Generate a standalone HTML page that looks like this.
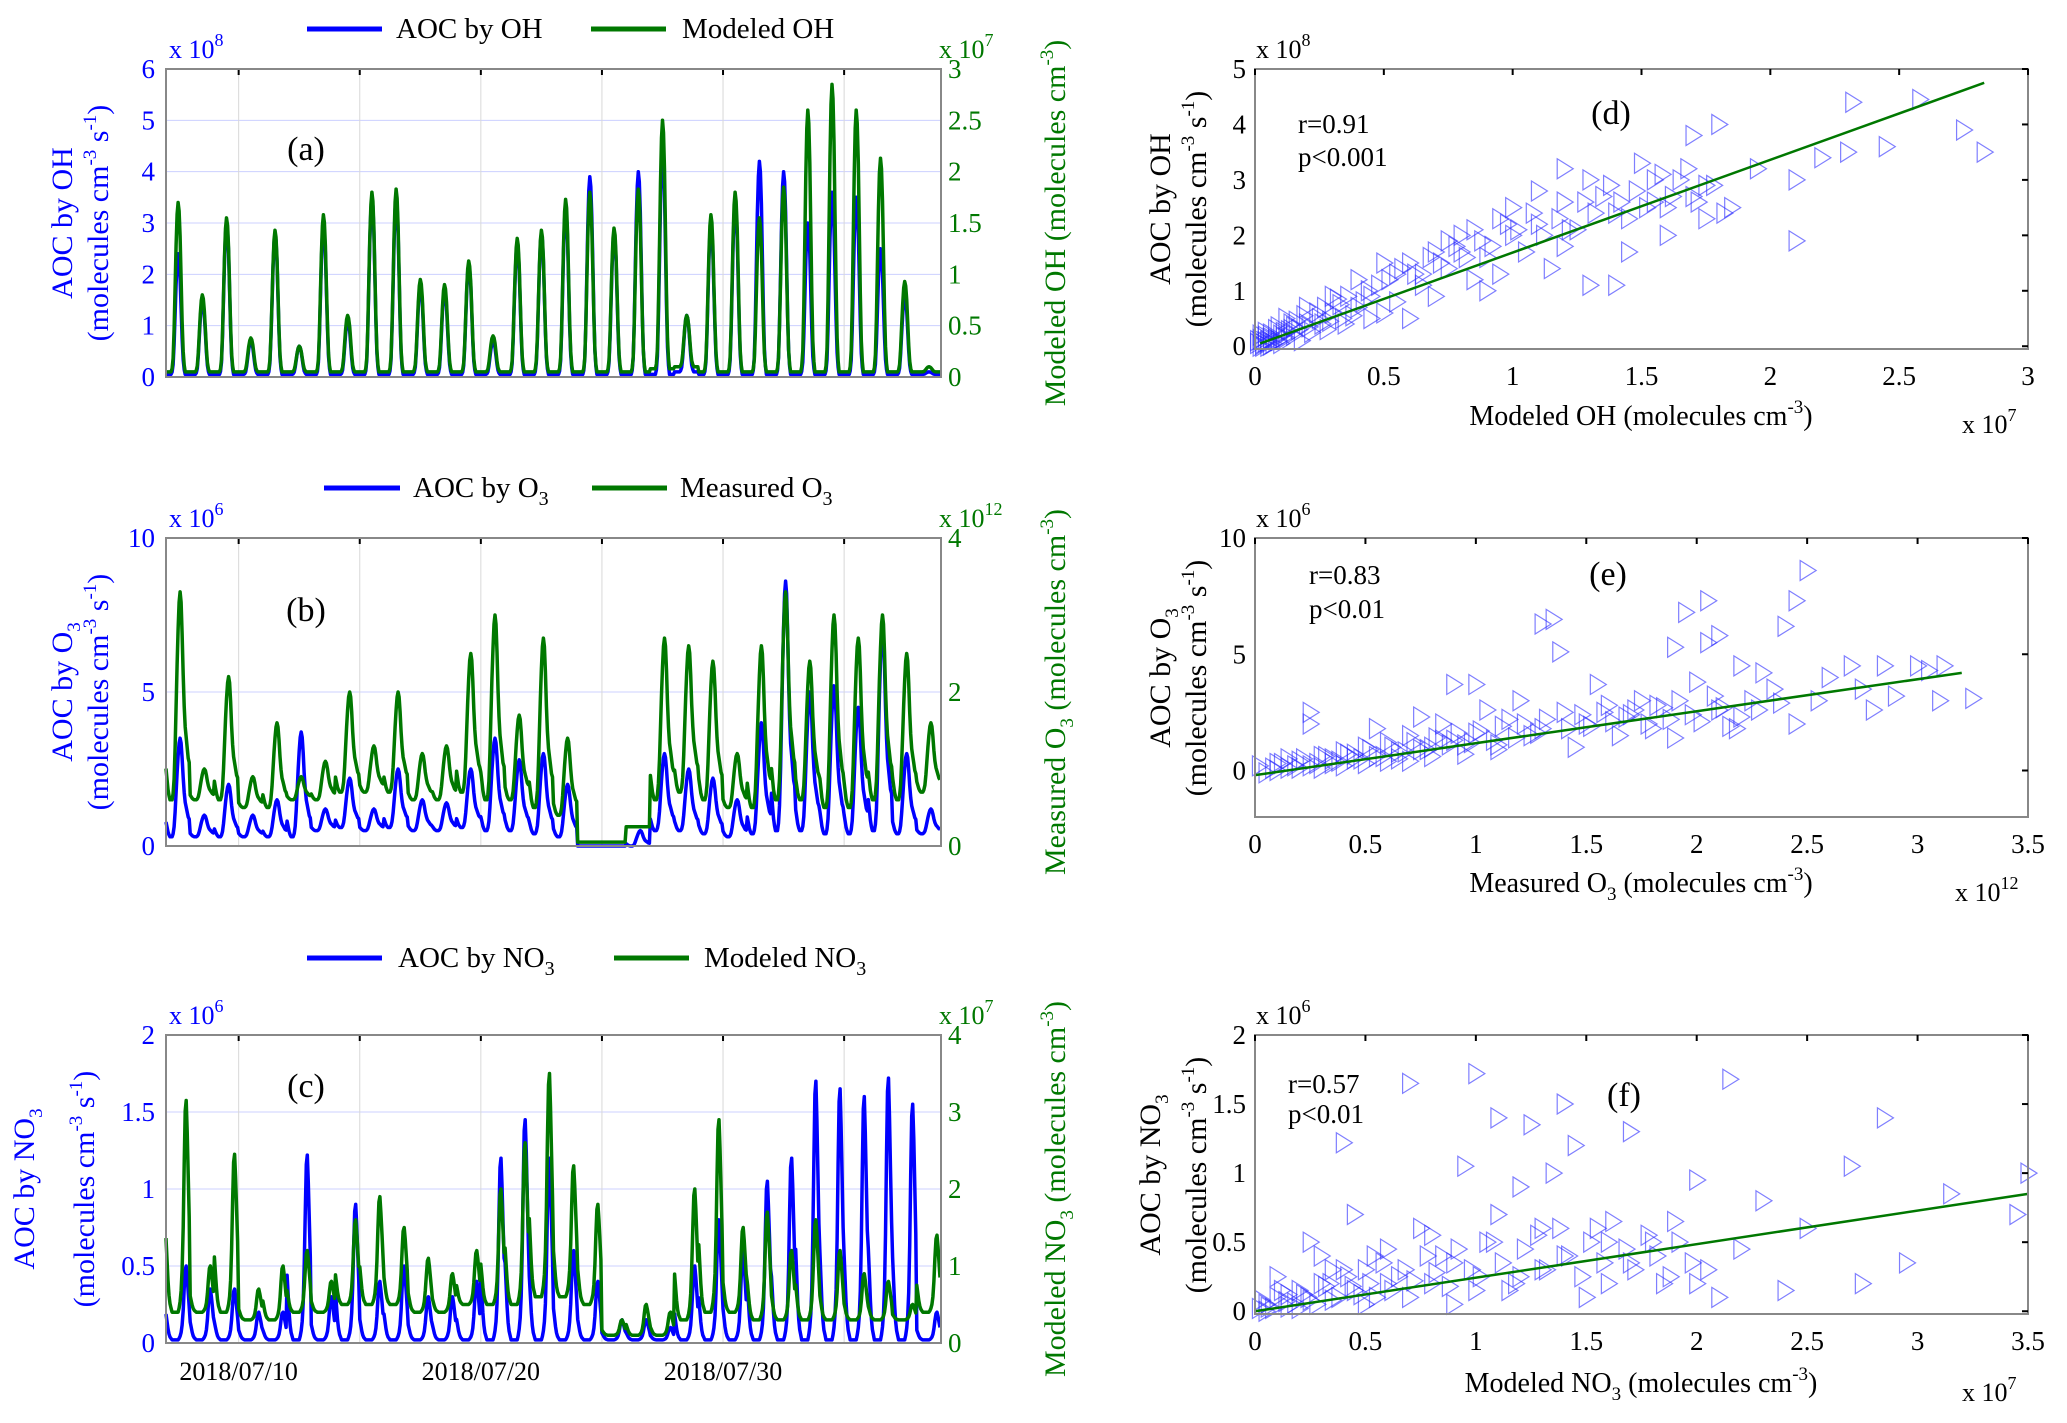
<!DOCTYPE html>
<html><head><meta charset="utf-8"><style>
html,body{margin:0;padding:0;background:#fff;}
svg{display:block;font-family:"Liberation Serif",serif;}
</style></head><body>
<svg id="fig" width="2067" height="1423" viewBox="0 0 2067 1423" xmlns="http://www.w3.org/2000/svg">
<rect width="2067" height="1423" fill="#fff"/>
<g id="grids"></g>
<g id="marks"></g>
<g id="axes"></g>
<g font-size="29">
 <line x1="307" y1="29" x2="382" y2="29" stroke="#0000ff" stroke-width="5"/>
 <text x="396" y="38">AOC by OH</text>
 <line x1="591" y1="29" x2="666" y2="29" stroke="#007800" stroke-width="5"/>
 <text x="682" y="38">Modeled OH</text>
</g>
<g font-size="29">
 <line x1="324" y1="488" x2="400" y2="488" stroke="#0000ff" stroke-width="5"/>
 <text x="413" y="497">AOC by O<tspan font-size="20" dy="8">3</tspan></text>
 <line x1="592" y1="488" x2="667" y2="488" stroke="#007800" stroke-width="5"/>
 <text x="680" y="497">Measured O<tspan font-size="20" dy="8">3</tspan></text>
</g>
<g font-size="29">
 <line x1="307" y1="958" x2="382" y2="958" stroke="#0000ff" stroke-width="5"/>
 <text x="398" y="967">AOC by NO<tspan font-size="20" dy="8">3</tspan></text>
 <line x1="614" y1="958" x2="689" y2="958" stroke="#007800" stroke-width="5"/>
 <text x="704" y="967">Modeled NO<tspan font-size="20" dy="8">3</tspan></text>
</g>
<g font-size="34">
 <text x="306" y="160" text-anchor="middle">(a)</text>
 <text x="306" y="621" text-anchor="middle">(b)</text>
 <text x="306" y="1097" text-anchor="middle">(c)</text>
 <text x="1611" y="124" text-anchor="middle">(d)</text>
 <text x="1608" y="585" text-anchor="middle">(e)</text>
 <text x="1624" y="1106" text-anchor="middle">(f)</text>
</g>
<g font-size="27">
 <text x="1298" y="133">r=0.91</text>
 <text x="1298" y="166">p&lt;0.001</text>
 <text x="1309" y="584">r=0.83</text>
 <text x="1309" y="618">p&lt;0.01</text>
 <text x="1288" y="1093">r=0.57</text>
 <text x="1288" y="1123">p&lt;0.01</text>
</g>
<g font-size="26">
 <text x="169" y="58" fill="#0000ff">x 10<tspan font-size="18" dy="-12">8</tspan></text>
 <text x="939" y="58" fill="#007800">x 10<tspan font-size="18" dy="-12">7</tspan></text>
 <text x="169" y="527" fill="#0000ff">x 10<tspan font-size="18" dy="-12">6</tspan></text>
 <text x="939" y="527" fill="#007800">x 10<tspan font-size="18" dy="-12">12</tspan></text>
 <text x="169" y="1024" fill="#0000ff">x 10<tspan font-size="18" dy="-12">6</tspan></text>
 <text x="939" y="1024" fill="#007800">x 10<tspan font-size="18" dy="-12">7</tspan></text>
 <text x="1256" y="58">x 10<tspan font-size="18" dy="-12">8</tspan></text>
 <text x="1256" y="527">x 10<tspan font-size="18" dy="-12">6</tspan></text>
 <text x="1256" y="1024">x 10<tspan font-size="18" dy="-12">6</tspan></text>
 <text x="1962" y="433">x 10<tspan font-size="18" dy="-12">7</tspan></text>
 <text x="1955" y="901">x 10<tspan font-size="18" dy="-12">12</tspan></text>
 <text x="1962" y="1401">x 10<tspan font-size="18" dy="-12">7</tspan></text>
</g>
<g font-size="30">
 <text transform="translate(72,223) rotate(-90)" text-anchor="middle" fill="#0000ff">AOC by OH</text>
 <text transform="translate(108,223) rotate(-90)" text-anchor="middle" fill="#0000ff">(molecules cm<tspan font-size="19" dy="-12">-3</tspan><tspan dy="12"> s</tspan><tspan font-size="19" dy="-12">-1</tspan><tspan dy="12">)</tspan></text>
 <text transform="translate(1065,223) rotate(-90)" text-anchor="middle" fill="#007800">Modeled OH (molecules cm<tspan font-size="19" dy="-12">-3</tspan><tspan dy="12">)</tspan></text>

 <text transform="translate(72,692) rotate(-90)" text-anchor="middle" fill="#0000ff">AOC by O<tspan font-size="19" dy="8">3</tspan></text>
 <text transform="translate(108,692) rotate(-90)" text-anchor="middle" fill="#0000ff">(molecules cm<tspan font-size="19" dy="-12">-3</tspan><tspan dy="12"> s</tspan><tspan font-size="19" dy="-12">-1</tspan><tspan dy="12">)</tspan></text>
 <text transform="translate(1065,692) rotate(-90)" text-anchor="middle" fill="#007800">Measured O<tspan font-size="19" dy="8">3</tspan><tspan dy="-8"> (molecules cm</tspan><tspan font-size="19" dy="-12">-3</tspan><tspan dy="12">)</tspan></text>

 <text transform="translate(34,1189) rotate(-90)" text-anchor="middle" fill="#0000ff">AOC by NO<tspan font-size="19" dy="8">3</tspan></text>
 <text transform="translate(94,1189) rotate(-90)" text-anchor="middle" fill="#0000ff">(molecules cm<tspan font-size="19" dy="-12">-3</tspan><tspan dy="12"> s</tspan><tspan font-size="19" dy="-12">-1</tspan><tspan dy="12">)</tspan></text>
 <text transform="translate(1065,1189) rotate(-90)" text-anchor="middle" fill="#007800">Modeled NO<tspan font-size="19" dy="8">3</tspan><tspan dy="-8"> (molecules cm</tspan><tspan font-size="19" dy="-12">-3</tspan><tspan dy="12">)</tspan></text>

 <text transform="translate(1170,209) rotate(-90)" text-anchor="middle">AOC by OH</text>
 <text transform="translate(1206,209) rotate(-90)" text-anchor="middle">(molecules cm<tspan font-size="19" dy="-12">-3</tspan><tspan dy="12"> s</tspan><tspan font-size="19" dy="-12">-1</tspan><tspan dy="12">)</tspan></text>
 <text transform="translate(1170,678) rotate(-90)" text-anchor="middle">AOC by O<tspan font-size="19" dy="8">3</tspan></text>
 <text transform="translate(1206,678) rotate(-90)" text-anchor="middle">(molecules cm<tspan font-size="19" dy="-12">-3</tspan><tspan dy="12"> s</tspan><tspan font-size="19" dy="-12">-1</tspan><tspan dy="12">)</tspan></text>
 <text transform="translate(1160,1175) rotate(-90)" text-anchor="middle">AOC by NO<tspan font-size="19" dy="8">3</tspan></text>
 <text transform="translate(1206,1175) rotate(-90)" text-anchor="middle">(molecules cm<tspan font-size="19" dy="-12">-3</tspan><tspan dy="12"> s</tspan><tspan font-size="19" dy="-12">-1</tspan><tspan dy="12">)</tspan></text>
</g>
<g font-size="28">
 <text x="1641" y="425" text-anchor="middle">Modeled OH (molecules cm<tspan font-size="19" dy="-12">-3</tspan><tspan dy="12">)</tspan></text>
 <text x="1641" y="892" text-anchor="middle">Measured O<tspan font-size="19" dy="8">3</tspan><tspan dy="-8"> (molecules cm</tspan><tspan font-size="19" dy="-12">-3</tspan><tspan dy="12">)</tspan></text>
 <text x="1641" y="1392" text-anchor="middle">Modeled NO<tspan font-size="19" dy="8">3</tspan><tspan dy="-8"> (molecules cm</tspan><tspan font-size="19" dy="-12">-3</tspan><tspan dy="12">)</tspan></text>
</g>
</svg>
<script>
const dateTickDays = [3, 13, 23];
const dateTickLabels = ["2018/07/10", "2018/07/20", "2018/07/30"];
const profileDay = [0,0,0,0,0,0,0.02,0.08,0.25,0.5,0.75,0.93,1,0.95,0.8,0.55,0.3,0.12,0.04,0,0,0,0,0];
const profileO3  = [0.15,0.1,0.05,0.02,0,0,0,0.03,0.1,0.25,0.45,0.65,0.82,0.95,1,0.95,0.8,0.6,0.45,0.35,0.3,0.25,0.2,0.18];
const profileNO3 = [0.35,0.25,0.15,0.08,0.04,0.02,0,0,0,0,0,0,0,0.02,0.05,0.1,0.2,0.4,0.7,0.95,1,0.85,0.65,0.45];

const aBluePeak  = [2.4,1.5,3.0,0.7,2.8,0.6,3.0,1.1,3.5,3.5,1.8,1.7,2.2,0.7,2.6,2.8,3.3,3.9,2.8,4.0,4.5,1.2,3.0,3.4,4.2,4.0,3.0,3.6,3.5,2.5,1.6,0.1];
const aBlueMin   = [0.05,0.05,0.05,0.05,0.05,0.05,0.05,0.05,0.05,0.05,0.05,0.05,0.05,0.05,0.05,0.05,0.05,0.05,0.05,0.05,0.05,0.1,0.05,0.05,0.05,0.05,0.05,0.05,0.05,0.05,0.05,0.05];
const aGreenPeak = [1.7,0.8,1.55,0.38,1.43,0.3,1.58,0.6,1.8,1.83,0.95,0.9,1.13,0.4,1.35,1.43,1.73,1.8,1.45,1.83,2.5,0.6,1.58,1.8,1.55,1.85,2.6,2.85,2.6,2.13,0.93,0.1];
const aGreenMin  = [0.05,0.05,0.05,0.05,0.05,0.05,0.05,0.05,0.05,0.05,0.05,0.05,0.05,0.05,0.05,0.05,0.05,0.05,0.05,0.05,0.08,0.1,0.05,0.05,0.05,0.05,0.05,0.05,0.05,0.05,0.05,0.05];

const bBluePeak  = [3.5,1.0,2.0,1.0,1.5,3.7,1.2,2.2,1.2,2.5,1.5,1.4,2.5,3.5,2.8,3.0,2.0,0,0,0.5,3.0,2.5,2.2,1.5,4.0,8.6,5.0,5.2,4.5,7.2,3.0,1.2];
const bBlueMin   = [0.3,0.3,0.3,0.3,0.3,0.3,0.5,0.6,0.5,0.6,0.5,0.5,0.6,0.5,0.5,0.4,0.3,0,0,0,0.5,0.5,0.4,0.3,0.4,0.5,0.5,0.4,0.4,0.5,0.4,0.4];
const bGreenPeak = [3.3,1.0,2.2,0.9,1.6,0.9,1.1,2.0,1.3,2.0,1.2,1.3,2.5,3.0,1.7,2.7,1.4,0.05,0.05,0.25,2.7,2.6,2.4,1.2,2.6,3.3,2.4,3.0,2.7,3.0,2.5,1.6];
const bGreenMin  = [0.6,0.6,0.6,0.5,0.5,0.6,0.6,0.7,0.7,0.7,0.6,0.6,0.7,0.6,0.6,0.5,0.4,0.05,0.05,0.25,0.6,0.7,0.6,0.5,0.5,0.6,0.6,0.5,0.5,0.6,0.6,0.7];

const cBluePeak  = [0.5,0.35,0.35,0.2,0.2,1.22,0.3,0.9,0.4,0.5,0.3,0.3,0.4,1.2,1.45,1.2,0.6,0.4,0.15,0.15,0.1,0.5,0.8,0.6,1.05,1.2,1.7,1.65,1.6,1.72,1.55,0.2];
const cBlueMin   = [0.02,0.02,0.02,0.02,0.02,0.02,0.02,0.02,0.02,0.02,0.02,0.02,0.02,0.02,0.02,0.02,0.02,0.02,0.02,0.02,0.02,0.02,0.02,0.02,0.02,0.02,0.02,0.02,0.02,0.02,0.02,0.02];
const cGreenPeak = [3.15,1.0,2.45,0.7,1.0,1.2,0.8,1.6,1.9,1.5,1.1,0.9,1.2,2.0,2.6,3.5,2.3,1.8,0.3,0.5,0.4,2.0,2.9,1.5,1.7,1.2,1.6,1.2,0.9,0.8,0.5,1.4];
const cGreenMin  = [0.4,0.4,0.4,0.3,0.3,0.4,0.4,0.5,0.5,0.5,0.4,0.4,0.5,0.5,0.5,0.6,0.6,0.5,0.1,0.1,0.1,0.3,0.4,0.4,0.3,0.3,0.3,0.3,0.3,0.3,0.3,0.4];

const dX = [0.02,0.03,0.05,0.05,0.06,0.08,0.1,0.1,0.12,0.15,0.15,0.18,0.2,0.2,0.22,0.25,0.28,0.3,0.3,0.33,0.35,0.38,0.4,0.4,0.45,0.45,0.5,0.5,0.55,0.55,0.6,0.6,0.65,0.65,0.7,0.7,0.75,0.75,0.8,0.8,0.85,0.85,0.9,0.9,0.95,0.95,1.0,1.0,1.05,1.1,1.1,1.15,1.2,1.2,1.2,1.25,1.3,1.3,1.35,1.4,1.4,1.45,1.45,1.5,1.55,1.55,1.6,1.6,1.65,1.7,1.7,1.75,1.75,1.8,1.85,1.95,2.1,2.1,2.2,2.3,2.32,2.45,2.58,2.75,2.83,0.01,0.04,0.07,0.12,0.16,
 0.01,0.02,0.03,0.04,0.05,0.06,0.08,0.09,0.11,0.13,0.14,0.17,0.19,0.21,0.24,0.26,0.27,0.29,0.32,0.34,0.36,0.42,0.44,0.48,0.52,0.57,0.62,0.68,0.72,0.78,0.82,0.88,0.92,0.98,1.02,1.08,1.12,1.18,1.22,1.28,1.32,1.38,1.42,1.48,1.52,1.58,1.62,1.68,1.72,1.78,1.82,0.02,0.04,0.06,0.09,0.11,0.14];
const dY = [0.2,0.05,0.1,0.0,0.15,0.3,0.05,0.2,0.5,0.2,0.35,0.1,0.4,0.7,0.25,0.5,0.3,0.6,0.9,0.75,0.4,0.55,0.7,1.2,0.9,0.5,0.6,1.5,1.3,0.8,1.5,0.5,1.1,1.3,1.7,0.9,1.4,1.9,2.0,1.7,1.2,2.1,1.6,1.0,2.3,1.3,2.0,2.5,1.7,2.2,2.8,1.4,2.6,1.8,3.2,2.1,3.0,1.1,2.7,1.1,2.4,2.3,1.7,3.3,2.6,3.0,2.0,2.5,3.0,3.8,2.7,2.3,2.9,4.0,2.5,3.2,1.9,3.0,3.4,3.5,4.4,3.6,4.45,3.9,3.5,0.1,0.25,0.05,0.15,0.45,
 0.05,0.12,0.0,0.18,0.08,0.22,0.12,0.35,0.15,0.28,0.4,0.3,0.55,0.35,0.6,0.4,0.7,0.45,0.85,0.5,0.9,0.8,1.0,1.1,1.2,1.4,1.3,1.6,1.5,1.8,1.6,1.9,1.8,2.2,2.1,2.4,2.0,2.3,2.1,2.6,2.4,2.9,2.6,2.8,2.5,3.1,2.7,3.2,2.6,2.9,2.4,0.0,0.08,0.02,0.1,0.25,0.3];
const dFit = [[0.02,0.05],[2.83,4.75]];

const eX = [0.02,0.05,0.1,0.15,0.2,0.25,0.25,0.25,0.3,0.35,0.4,0.45,0.5,0.55,0.55,0.6,0.65,0.7,0.75,0.8,0.85,0.9,0.9,0.95,1.0,1.0,1.05,1.1,1.15,1.2,1.25,1.3,1.35,1.38,1.4,1.45,1.5,1.55,1.6,1.65,1.7,1.75,1.8,1.85,1.9,1.9,1.95,2.0,2.05,2.05,2.1,2.1,2.15,2.2,2.25,2.3,2.35,2.4,2.45,2.5,2.45,2.55,2.6,2.7,2.75,2.8,2.85,2.9,3.0,3.05,3.1,3.12,3.25,2.2,1.3,0.6,0.3,0.15,0.7,0.4,0.1,0.2,0.5,0.8,1.1,
 0.08,0.12,0.18,0.22,0.28,0.32,0.38,0.42,0.48,0.52,0.58,0.62,0.68,0.72,0.78,0.82,0.88,0.92,0.98,1.02,1.08,1.12,1.18,1.22,1.28,1.32,1.42,1.48,1.52,1.58,1.62,1.68,1.72,1.78,1.82,1.88,1.92,1.98,2.02,2.08,2.12,2.18,2.28,2.38,0.35,0.45,0.65,0.75,0.85,0.95];
const eY = [0.2,-0.1,0.3,0.1,0.4,0.2,2.5,2.0,0.6,0.3,0.8,0.5,1.0,1.8,0.6,1.2,0.8,1.5,2.3,1.0,2.0,3.7,1.3,0.7,3.7,1.6,2.6,1.1,2.2,3.0,1.5,6.3,6.5,5.1,2.5,1.0,2.0,3.7,2.8,1.5,2.4,3.0,1.8,2.7,5.3,1.4,6.8,3.8,7.3,5.5,5.8,2.6,1.9,4.5,3.0,4.2,3.5,6.2,7.3,8.6,2.0,3.0,4.0,4.5,3.5,2.6,4.5,3.2,4.5,4.3,3.0,4.5,3.1,2.3,1.8,0.4,0.1,0.5,0.4,0.2,0.0,0.1,0.3,0.6,0.9,
 0.1,0.3,0.2,0.5,0.3,0.6,0.4,0.7,0.5,0.9,0.6,1.0,0.8,1.2,0.9,1.4,1.1,1.6,1.2,1.7,1.3,1.9,1.4,2.0,1.6,2.2,1.8,2.4,1.9,2.5,2.1,2.3,2.6,2.0,2.8,2.2,3.0,2.4,2.1,3.2,2.7,1.8,2.6,2.9,0.5,0.7,0.5,0.9,1.3,1.1];
const eFit = [[0,-0.2],[3.2,4.2]];

const fX = [0.02,0.05,0.1,0.15,0.2,0.25,0.3,0.35,0.4,0.45,0.5,0.55,0.6,0.7,0.75,0.8,0.85,0.9,0.95,1.0,1.05,1.1,1.15,1.2,1.25,1.3,1.35,1.4,1.45,1.5,1.55,1.6,1.7,1.8,1.85,1.9,2.0,2.05,2.1,2.15,2.2,2.3,2.4,2.5,2.7,2.75,2.85,2.95,3.15,3.45,3.5,0.3,0.5,0.65,0.9,1.0,1.2,1.4,1.6,0.2,0.1,0.4,0.8,1.1,1.3,1.7,2.0,0.05,0.15,0.25,0.35,0.45,0.6,0.7,
 0.03,0.08,0.12,0.18,0.22,0.28,0.32,0.38,0.42,0.48,0.52,0.58,0.62,0.68,0.72,0.78,0.82,0.88,0.92,0.98,1.02,1.08,1.12,1.18,1.22,1.28,1.32,1.38,1.42,1.48,1.52,1.58,1.62,1.68,1.72,1.78,1.82,1.88,1.92,1.98,0.06,0.14,0.24,0.34,0.44,0.54];
const fY = [0.02,0.05,0.1,0.03,0.15,0.5,0.2,0.08,1.22,0.7,0.3,0.1,0.45,1.65,0.6,0.2,0.4,0.05,1.05,1.72,0.5,1.4,0.15,0.9,1.35,0.3,1.0,1.5,1.2,0.1,0.6,0.2,1.3,0.5,0.2,0.65,0.95,0.3,0.1,1.68,0.45,0.8,0.15,0.6,1.05,0.2,1.4,0.35,0.85,0.7,1.0,0.4,0.05,0.25,0.35,0.15,0.25,0.4,0.5,0.02,0.25,0.3,0.55,0.7,0.6,0.35,0.2,0.0,0.12,0.08,0.3,0.15,0.2,0.1,
 0.08,0.02,0.15,0.06,0.12,0.05,0.18,0.1,0.25,0.12,0.2,0.35,0.15,0.3,0.22,0.4,0.28,0.18,0.45,0.3,0.25,0.5,0.35,0.2,0.45,0.55,0.3,0.6,0.4,0.25,0.5,0.35,0.65,0.45,0.3,0.55,0.4,0.25,0.5,0.35,0.03,0.07,0.1,0.2,0.18,0.4];
const fFit = [[0,0],[3.5,0.85]];

const NS = "http://www.w3.org/2000/svg";
const grids = document.getElementById('grids');
const marks = document.getElementById('marks');
const axes = document.getElementById('axes');
function mk(tag, attrs, parent){const e=document.createElementNS(NS,tag);for(const k in attrs)e.setAttribute(k,attrs[k]);parent.appendChild(e);return e;}
function lin(d0,d1,r0,r1){return v=>r0+(v-d0)/(d1-d0)*(r1-r0);}

const NDAYS = 32;
function hourly(peak, mn, prof){const out=[];for(let d=0;d<peak.length;d++){for(let h=0;h<24;h++){out.push([d+h/24, mn[d]+(peak[d]-mn[d])*prof[h]]);}}return out;}

function timePanel(id, T, B, lmax, lticks, rmax, rticks, blue, green, dates){
  const L=166,R=941;
  const x=lin(0,NDAYS,L,R), yl=lin(0,lmax,B,T), yr=lin(0,rmax,B,T);
  lticks.forEach(v=>{const g=mk('line',{x1:L,x2:R,y1:yl(v),y2:yl(v),stroke:'#ccd0ff','stroke-width':1},grids);
    
    });
  for(let d=3;d<NDAYS;d+=5){const g=mk('line',{x1:x(d),x2:x(d),y1:T,y2:B,stroke:'#d8d8d8','stroke-width':1},grids);
    
    
    const t=mk('line',{x1:x(d),x2:x(d),y1:T,y2:T+6,stroke:'#000','stroke-width':2},axes);
    
    }
  const pb=blue.map(p=>x(p[0]).toFixed(1)+','+yl(p[1]).toFixed(1)).join(' ');
  const lb=mk('polyline',{points:pb,fill:'none',stroke:'#0000ff','stroke-width':3.5,'stroke-linejoin':'round'},marks);
  
  
  const pg=green.map(p=>x(p[0]).toFixed(1)+','+yr(p[1]).toFixed(1)).join(' ');
  const lg=mk('polyline',{points:pg,fill:'none',stroke:'#007800','stroke-width':3.5,'stroke-linejoin':'round'},marks);
  
  
  const fr=mk('rect',{x:L,y:T,width:R-L,height:B-T,fill:'none',stroke:'#888','stroke-width':2},axes);
  
  
  lticks.forEach(v=>{const t=mk('text',{x:155,y:yl(v)+9,'text-anchor':'end','font-size':27,fill:'#0000ff'},axes);t.textContent=String(v);
    
    });
  rticks.forEach(v=>{const t=mk('text',{x:948,y:yr(v)+9,'font-size':27,fill:'#007800'},axes);t.textContent=String(v);
    
    });
  if(dates){dateTickDays.forEach((d,i)=>{const t=mk('text',{x:x(d),y:B+37,'text-anchor':'middle','font-size':26},axes);t.textContent=dateTickLabels[i];
    
    });}
}
timePanel('a',69,377,6,[0,1,2,3,4,5,6],3,[0,0.5,1,1.5,2,2.5,3],hourly(aBluePeak,aBlueMin,profileDay),hourly(aGreenPeak,aGreenMin,profileDay),false);
timePanel('b',538,846,10,[0,5,10],4,[0,2,4],hourly(bBluePeak,bBlueMin,profileO3),hourly(bGreenPeak,bGreenMin,profileO3),false);
timePanel('c',1035,1343,2,[0,0.5,1,1.5,2],4,[0,1,2,3,4],hourly(cBluePeak,cBlueMin,profileNO3),hourly(cGreenPeak,cGreenMin,profileNO3),true);

function scatterPanel(id,T,B,xmax,xticks,ymin,ymax,yticks,xs,ys,fit){
  const L=1255,R=2028;
  const x=lin(0,xmax,L,R), y=lin(ymin,ymax,B,T);
  const fr=mk('rect',{x:L,y:T,width:R-L,height:B-T,fill:'none',stroke:'#888','stroke-width':2},axes);
  
  
  xs.forEach((xv,i)=>{const px=x(xv),py=y(ys[i]);
    const m=mk('polygon',{points:(px-7)+','+(py-10)+' '+(px+9)+','+py+' '+(px-7)+','+(py+10),fill:'none',stroke:'#2a2aff','stroke-width':1.2,'stroke-opacity':0.6},marks);
    
    });
  const fl=mk('line',{x1:x(fit[0][0]),y1:y(fit[0][1]),x2:x(fit[1][0]),y2:y(fit[1][1]),stroke:'#007800','stroke-width':2.5},marks);
  
  
  xticks.forEach(v=>{const t=mk('text',{x:x(v),y:B+36,'text-anchor':'middle','font-size':27},axes);t.textContent=String(v);
    
    
    const k=mk('line',{x1:x(v),x2:x(v),y1:T,y2:T+6,stroke:'#000','stroke-width':2},axes);
    
    });
  yticks.forEach(v=>{const t=mk('text',{x:1246,y:y(v)+9,'text-anchor':'end','font-size':27},axes);t.textContent=String(v);
    
    
    const k=mk('line',{x1:R-6,x2:R,y1:y(v),y2:y(v),stroke:'#000','stroke-width':2},axes);
    
    });
}
scatterPanel('d',69,349,3,[0,0.5,1,1.5,2,2.5,3],-0.05,5,[0,1,2,3,4,5],dX,dY,dFit);
scatterPanel('e',538,817,3.5,[0,0.5,1,1.5,2,2.5,3,3.5],-2,10,[0,5,10],eX,eY,eFit);
scatterPanel('f',1035,1314,3.5,[0,0.5,1,1.5,2,2.5,3,3.5],-0.02,2,[0,0.5,1,1.5,2],fX,fY,fFit);
</script>
</body></html>
